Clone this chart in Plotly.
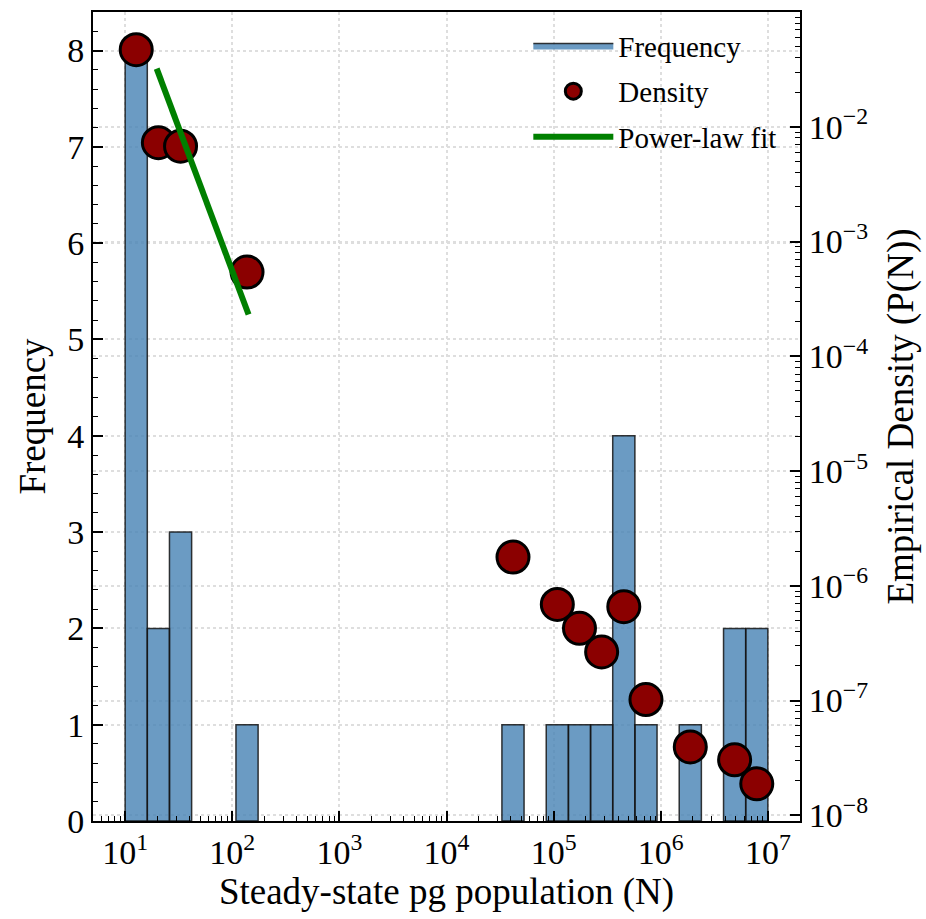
import numpy as np
import plotly.graph_objects as go

# Histogram of steady-state pg population on 29 log-spaced bins (10^1 .. 10^7)
n_bins = 29
bin_edges = np.logspace(1, 7, n_bins + 1)
counts = [8, 2, 3, 0, 0, 1,
          0, 0, 0, 0, 0, 0, 0, 0, 0, 0, 0,
          1, 0, 1, 1, 1, 4, 1, 0, 1, 0, 2, 2]

# Empirical density P(N) for each non-empty bin (same order as the bins)
density = [4.69e-2, 7.27e-3, 6.77e-3, 5.41e-4,
           1.78e-6, 6.87e-7, 4.26e-7, 2.65e-7, 6.57e-7, 1.02e-7,
           3.94e-8, 3.04e-8, 1.88e-8]

# Power-law fit segment
fit_N = [19.7, 141.9]
fit_P = [3.21e-2, 2.31e-4]

# Tick labels
x_exponents = [1, 2, 3, 4, 5, 6, 7]
y2_exponents = [-8, -7, -6, -5, -4, -3, -2]

FONT = '"Liberation Serif", "Times New Roman", Times, serif'

# bar outlines as closed polygons on the log x axis
bx, by = [], []
for lo, hi, c in zip(bin_edges[:-1], bin_edges[1:], counts):
    if c == 0:
        continue
    bx += [lo, lo, hi, hi, lo, None]
    by += [0, c, c, 0, 0, None]

nonzero = [k for k, c in enumerate(counts) if c > 0]
centers = [np.sqrt(bin_edges[k] * bin_edges[k + 1]) for k in nonzero]


def pow_label(e):
    return "10<sup>" + str(e).replace("-", "\u2212") + "</sup>"


fig = go.Figure()
fig.add_trace(go.Scatter(
    x=bx, y=by, mode="lines", fill="toself",
    fillcolor="rgba(70,130,180,0.8)",
    line=dict(color="rgba(20,20,20,0.85)", width=1.5),
    name="Frequency", legendgroup="a", xaxis="x", yaxis="y", hoverinfo="skip",
))
fig.add_trace(go.Scatter(
    x=centers, y=density, mode="markers", name="Density", legendgroup="b",
    marker=dict(size=32, color="#8b0000", line=dict(color="black", width=3)),
    xaxis="x", yaxis="y2",
))
fig.add_trace(go.Scatter(
    x=fit_N, y=fit_P, mode="lines", name="Power-law fit", legendgroup="c",
    line=dict(color="#008000", width=6),
    xaxis="x", yaxis="y2",
))

grid = dict(showgrid=True, gridcolor="#dedede", griddash="dot", gridwidth=1.5)
tickfont = dict(family=FONT, size=34, color="black")
titlefont = dict(family=FONT, size=37, color="black")

fig.update_layout(
    width=926, height=919,
    margin=dict(l=93, r=126, t=10, b=98),
    paper_bgcolor="white", plot_bgcolor="white",
    font=dict(family=FONT, color="black"),
    showlegend=True,
    legend=dict(x=0.975, y=0.99, xanchor="right", yanchor="top",
                bgcolor="rgba(0,0,0,0)", font=dict(family=FONT, size=29),
                itemwidth=80, tracegroupgap=5, traceorder="grouped"),
    xaxis=dict(
        type="log", range=[0.7, 7.3],
        tickvals=[10.0 ** e for e in x_exponents],
        ticktext=[pow_label(e) for e in x_exponents],
        ticks="inside", ticklen=10, tickwidth=1.5, tickcolor="black",
        showline=True, linewidth=2, linecolor="black", mirror=True,
        minor=dict(ticks="inside", ticklen=5, tickwidth=1, dtick="D1",
                   tickcolor="black", showgrid=False),
        tickfont=tickfont,
        title=dict(text="Steady-state pg population (N)", font=titlefont, standoff=6),
        zeroline=False, **grid,
    ),
    yaxis=dict(
        range=[0, 8.4], dtick=1,
        ticks="inside", ticklen=10, tickwidth=1.5, tickcolor="black",
        showline=True, linewidth=2, linecolor="black",
        minor=dict(ticks="inside", ticklen=5, tickwidth=1, dtick=0.2,
                   tickcolor="black", showgrid=False),
        tickfont=tickfont,
        title=dict(text="Frequency", font=titlefont, standoff=10),
        zeroline=False, **grid,
    ),
    yaxis2=dict(
        type="log", range=[-8.05, -1.0], overlaying="y", side="right",
        tickvals=[10.0 ** e for e in y2_exponents],
        ticktext=[pow_label(e) for e in y2_exponents],
        ticks="inside", ticklen=10, tickwidth=1.5, tickcolor="black",
        showline=True, linewidth=2, linecolor="black",
        minor=dict(ticks="inside", ticklen=5, tickwidth=1, dtick="D1",
                   tickcolor="black", showgrid=False),
        tickfont=tickfont,
        title=dict(text="Empirical Density (P(N))", font=titlefont, standoff=20),
        zeroline=False, **grid,
    ),
)

fig.write_html("out.html")
